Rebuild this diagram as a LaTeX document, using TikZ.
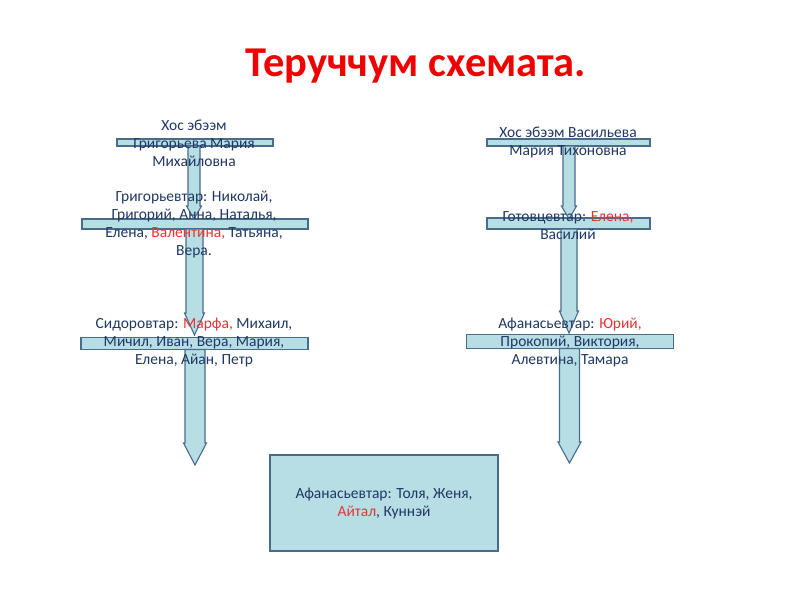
\documentclass[tikz,border=0pt]{standalone}
\usepackage{fontspec}
\setmainfont{Carlito}
\definecolor{barfill}{RGB}{183,222,228}
\definecolor{bardraw}{RGB}{72,108,140}
\definecolor{txt}{RGB}{31,56,100}
\definecolor{hl}{RGB}{232,52,52}
\definecolor{ttl}{RGB}{240,0,0}
\newcommand{\hl}[1]{\textcolor{hl}{#1}}
% \downarr{name}{x}{ytop}{ytip}{halfshaft}{headlen}
\newcommand{\downarr}[6]{%
  \draw[arrowbody] (#2-#5,#3) -- (#2+#5,#3) -- (#2+#5,#4-#6) -- (#2+#5+1.5,#4-#6)
    -- (#2,#4) -- (#2-#5-1.5,#4-#6) -- (#2-#5,#4-#6) -- cycle;
  \coordinate (#1) at (#2,#4);}
\begin{document}
\begin{tikzpicture}[x=1pt,y=-1pt,
  bar/.style={draw=bardraw,fill=barfill,line width=1.1pt,inner sep=0pt,minimum width=#1},
  arrowbody/.style={draw=bardraw,fill=barfill,line width=1.1pt,line join=miter},
  lbl/.style={text=txt,font=\fontsize{15.5}{18}\selectfont,align=center,inner sep=0pt},
  ]
\useasboundingbox (0,0) rectangle (800,600);
\fill[white] (0,0) rectangle (800,600);

\node[text=ttl,font=\fontsize{42.5}{46}\selectfont\bfseries,inner sep=0pt] (title) at (416,66) {Теруччум схемата.};

% left column bars
\node[bar=156pt,minimum height=7pt] (lb1) at (195,142.5) {};
\node[bar=226pt,minimum height=10pt] (lb2) at (195,224) {};
\node[bar=227pt,minimum height=12pt] (lb3) at (194.5,343.5) {};
% right column bars
\node[bar=163pt,minimum height=7pt] (rb1) at (568.5,142.5) {};
\node[bar=163pt,minimum height=11pt] (rb2) at (568.5,223.5) {};
\node[bar=207pt,minimum height=14pt] (rb3) at (570,341.5) {};

% arrows
\downarr{la1}{194}{146}{219}{6}{13}
\downarr{la2}{194.5}{229}{335}{8.5}{22}
\downarr{la3}{195}{349.5}{465}{10}{22}
\downarr{ra1}{569}{146}{219}{6}{13}
\downarr{ra2}{569}{229}{333}{8}{22}
\downarr{ra3}{569.5}{348.5}{463}{10}{21}

% bottom box
\node[draw=bardraw,fill=barfill,line width=1.1pt,minimum width=228pt,minimum height=96pt,inner sep=0pt] (box) at (384,503) {};
\node[lbl] (boxt) at (384,504) {Афанасьевтар: Толя, Женя,\\\hl{Айтал}, Куннэй};

% left texts
\node[lbl] (lt1) at (194,143) {Хос эбээм\\Григорьева Мария\\Михайловна};
\node[lbl] (lt2) at (194,225) {Григорьевтар: Николай,\\Григорий, Анна, Наталья,\\Елена, \hl{Валентина,} Татьяна,\\Вера.};
\node[lbl] (lt3) at (194,343) {Сидоровтар: \hl{Марфа,} Михаил,\\Мичил, Иван, Вера, Мария,\\Елена, Айан, Петр};
% right texts
\node[lbl] (rt1) at (568,142.5) {Хос эбээм Васильева\\Мария Тихоновна};
\node[lbl] (rt2) at (568,226) {Готовцевтар: \hl{Елена,}\\Василий};
\node[lbl] (rt3) at (570,343) {Афанасьевтар: \hl{Юрий,}\\Прокопий, Виктория,\\Алевтина, Тамара};
\end{tikzpicture}
\end{document}
